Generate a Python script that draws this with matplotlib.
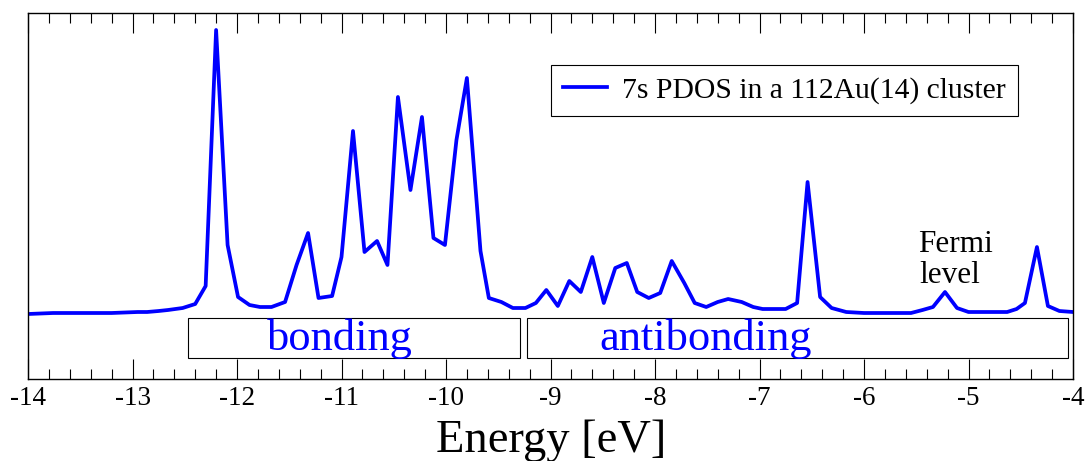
import numpy as np
import matplotlib
matplotlib.use("Agg")
from matplotlib import pyplot as plt
from matplotlib.patches import Rectangle
from matplotlib.ticker import MultipleLocator

plt.rcParams['font.family'] = ['Liberation Serif', 'DejaVu Serif']

# 7s PDOS (energy in eV, arbitrary units)
energy = [-14.0, -13.76, -13.5, -13.2, -12.95, -12.86, -12.75, -12.66, -12.52, -12.40,
          -12.30, -12.20, -12.09, -11.99, -11.88, -11.78, -11.67, -11.54, -11.43, -11.32,
          -11.22, -11.09, -11.0, -10.89, -10.78, -10.66, -10.56, -10.46, -10.34, -10.23,
          -10.12, -10.01, -9.90, -9.80, -9.67, -9.59, -9.47, -9.36, -9.24, -9.14,
          -9.04, -8.93, -8.82, -8.71, -8.60, -8.49, -8.38, -8.27, -8.17, -8.06,
          -7.95, -7.84, -7.72, -7.62, -7.51, -7.40, -7.30, -7.17, -7.06, -6.97,
          -6.75, -6.64, -6.54, -6.42, -6.31, -6.17, -6.0, -5.55, -5.44, -5.34,
          -5.225, -5.11, -5.0, -4.63, -4.54, -4.46, -4.345, -4.24, -4.13, -4.0]
pdos = [-0.01, 0.0, 0.0, 0.0, 0.01, 0.01, 0.02, 0.03, 0.05, 0.09,
        0.27, 2.83, 0.68, 0.16, 0.08, 0.06, 0.06, 0.11, 0.48, 0.80,
        0.15, 0.17, 0.56, 1.82, 0.61, 0.72, 0.48, 2.16, 1.23, 1.96,
        0.75, 0.68, 1.73, 2.35, 0.62, 0.15, 0.11, 0.05, 0.05, 0.10,
        0.23, 0.07, 0.32, 0.21, 0.56, 0.10, 0.45, 0.50, 0.21, 0.15,
        0.20, 0.52, 0.30, 0.10, 0.06, 0.11, 0.14, 0.11, 0.06, 0.04,
        0.04, 0.10, 1.31, 0.16, 0.05, 0.01, 0.0, 0.0, 0.03, 0.06,
        0.21, 0.05, 0.01, 0.01, 0.04, 0.10, 0.66, 0.07, 0.02, 0.01]

regions = ["bonding", "antibonding"]
region_start = [-12.47, -9.225]
region_end = [-9.29, -4.05]
region_label_x = [-11.02, -7.52]

fig = plt.figure(figsize=(10.9, 4.61), dpi=100)
ax = fig.add_axes([28/1090, (461-379)/461, 1045/1090, 366/461])

ax.plot(energy, pdos, color='#0000ff', lw=2.7, label='7s PDOS in a 112Au(14) cluster')

for name, x0, x1, xt in zip(regions, region_start, region_end, region_label_x):
    ax.add_patch(Rectangle((x0, -0.453), x1 - x0, 0.40, fill=False, ec='black', lw=0.8))
    ax.text(xt, -0.37, name, color='#0000ff', fontsize=32, ha='center', va='baseline')

ax.text(-5.483, 0.61, "Fermi", fontsize=22.5, ha='left', va='baseline')
ax.text(-5.47, 0.30, "level", fontsize=22.5, ha='left', va='baseline')

ax.set_xlim(-14, -4)
ax.set_ylim(-0.66, 3.0)
ax.set_yticks([])
ax.xaxis.set_major_locator(MultipleLocator(1))
ax.xaxis.set_minor_locator(MultipleLocator(0.2))
ax.tick_params(axis='x', which='major', direction='in', top=True, length=14.4, width=0.8,
               labelsize=19.5, pad=5)
ax.tick_params(axis='x', which='minor', direction='in', top=True, length=7.2, width=0.8)
ax.set_xticklabels([str(int(t)) for t in ax.get_xticks()])
for s in ax.spines.values():
    s.set_linewidth(1.0)

ax.set_xlabel("Energy [eV]", fontsize=33.5, va='baseline')
ax.xaxis.set_label_coords(0.5005, -0.1995)

leg = ax.legend(loc='upper left', bbox_to_anchor=(0.5005, 0.858), fontsize=21.3,
                frameon=True, fancybox=False, edgecolor='black', framealpha=1,
                handlelength=1.5, handletextpad=0.5, borderpad=0.4, borderaxespad=0)
leg.get_frame().set_linewidth(0.8)

fig.savefig("out.png", dpi=100)
